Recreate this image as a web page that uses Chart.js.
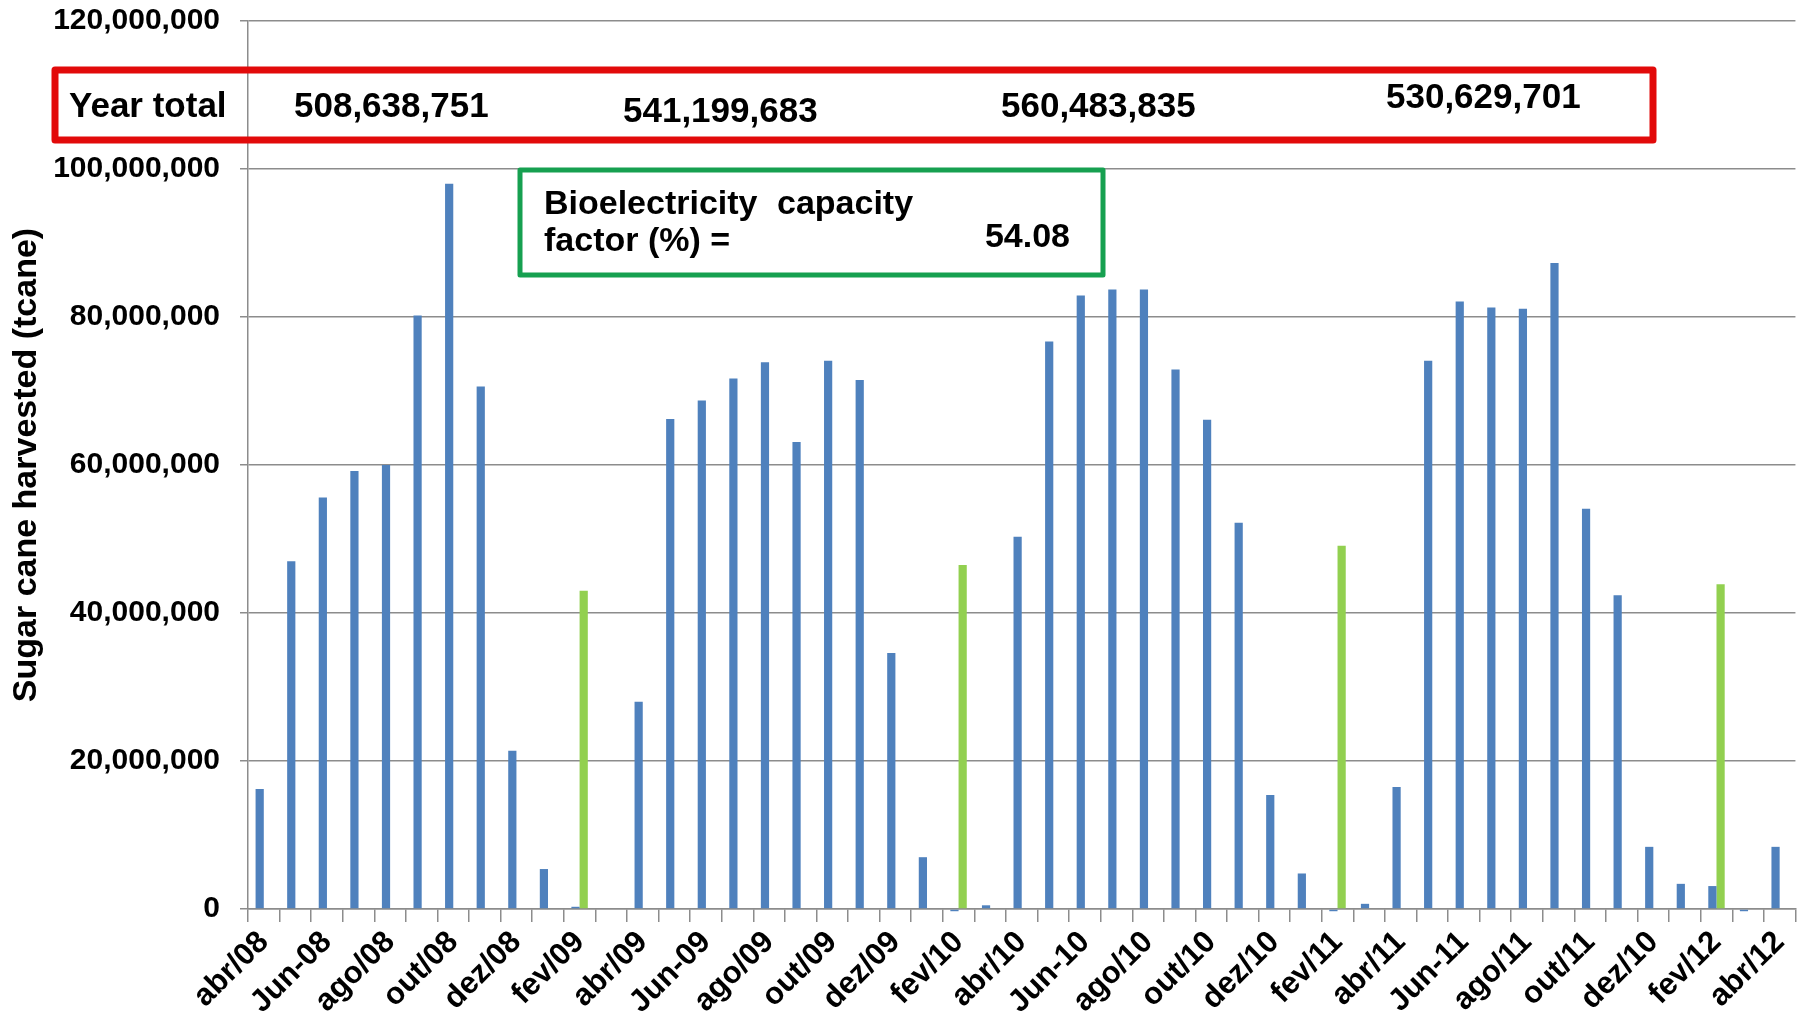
<!DOCTYPE html>
<html>
<head>
<meta charset="utf-8">
<title>Sugar cane harvested</title>
<script src="https://cdn.jsdelivr.net/npm/chart.js@4"></script>
<style>
  html, body { margin: 0; padding: 0; background: #fff; }
  #wrap { width: 1808px; height: 1015px; position: relative; }
</style>
</head>
<body>
<div id="wrap"><canvas id="caneChart"></canvas></div>
<script>
'use strict';

// months on the x axis (only every second one is labelled, as in the original)
const months = [
  'abr/08', 'mai/08', 'Jun-08', 'jul/08', 'ago/08', 'set/08', 'out/08', 'nov/08', 'dez/08',
  'jan/09', 'fev/09', 'mar/09', 'abr/09', 'mai/09', 'Jun-09', 'jul/09', 'ago/09', 'set/09',
  'out/09', 'nov/09', 'dez/09', 'jan/10', 'fev/10', 'mar/10', 'abr/10', 'mai/10', 'Jun-10',
  'jul/10', 'ago/10', 'set/10', 'out/10', 'nov/10', 'dez/10', 'jan/11', 'fev/11', 'mar/11',
  'abr/11', 'mai/11', 'Jun-11', 'jul/11', 'ago/11', 'set/11', 'out/11', 'nov/11', 'dez/10',
  'jan/12', 'fev/12', 'mar/12', 'abr/12'
];

// sugar cane harvested per month, millions of tonnes
const caneMillions = [
  16.2, 47.0, 55.6, 59.2, 60.0, 80.2, 98.0, 70.6, 21.4,
  5.4, 0.3, 0, 28.0, 66.2, 68.7, 71.7, 73.9, 63.1,
  74.1, 71.5, 34.6, 7.0, -0.3, 0.5, 50.3, 76.7, 82.9,
  83.7, 83.7, 72.9, 66.1, 52.2, 15.4, 4.8, -0.3, 0.7,
  16.5, 74.1, 82.1, 81.3, 81.1, 87.3, 54.1, 42.4, 8.4,
  3.4, 3.1, -0.3, 8.4
];

// green bars (only in february), millions
const febMillions = [
  null, null, null, null, null, null, null, null, null,
  null, 43.0, null, null, null, null, null, null, null,
  null, null, null, null, 46.5, null, null, null, null,
  null, null, null, null, null, null, null, 49.1, null,
  null, null, null, null, null, null, null, null, null,
  null, 43.9, null, null
];

const yTicks = [0, 20e6, 40e6, 60e6, 80e6, 100e6, 120e6];

const totalLabel = 'Year total';
const yearTotals = ['508,638,751', '541,199,683', '560,483,835', '530,629,701'];
const capacityLines = ['Bioelectricity capacity', 'factor (%) ='];
const capacityValue = '54.08';

const FONT = '"Liberation Sans", Arial, sans-serif';

// boxes with the year totals and the capacity factor
const boxesPlugin = {
  id: 'boxes',
  afterDraw(chart) {
    const ctx = chart.ctx;
    ctx.save();

    // red box
    ctx.lineJoin = 'round';
    ctx.lineWidth = 7;
    ctx.strokeStyle = '#e20a0a';
    ctx.strokeRect(55, 70, 1598, 70);

    ctx.fillStyle = '#000';
    ctx.textAlign = 'left';
    ctx.textBaseline = 'alphabetic';
    ctx.font = 'bold 35px ' + FONT;
    ctx.fillText(totalLabel, 69, 117);
    const tx = [294, 623, 1001, 1386];
    const ty = [117, 122, 117, 108];
    yearTotals.forEach((t, i) => ctx.fillText(t, tx[i], ty[i]));

    // green box
    ctx.fillStyle = '#fff';
    ctx.fillRect(520, 170, 583, 105);
    ctx.lineWidth = 5;
    ctx.strokeStyle = '#16a050';
    ctx.strokeRect(520, 170, 583, 105);

    ctx.fillStyle = '#000';
    ctx.font = 'bold 34px ' + FONT;
    ctx.wordSpacing = '10px';
    ctx.fillText(capacityLines[0], 544, 214);
    ctx.wordSpacing = '0px';
    ctx.fillText(capacityLines[1], 544, 251);
    ctx.textAlign = 'right';
    ctx.fillText(capacityValue, 1070, 247);

    ctx.restore();
  }
};

const canvas = document.getElementById('caneChart');

new Chart(canvas, {
  type: 'bar',
  data: {
    labels: months,
    datasets: [
      {
        label: 'Sugar cane harvested',
        data: caneMillions.map(v => v * 1e6),
        backgroundColor: '#4f81bd',
        categoryPercentage: 0.52,
        barPercentage: 1.0,
        clip: false,
      },
      {
        label: 'February',
        data: febMillions.map(v => (v === null ? null : v * 1e6)),
        backgroundColor: '#92d050',
        categoryPercentage: 0.52,
        barPercentage: 1.0,
        clip: false,
      },
    ],
  },
  options: {
    responsive: true,
    maintainAspectRatio: false,
    animation: false,
    layout: { padding: { top: 21, right: 4, left: 0, bottom: 0 } },
    plugins: {
      legend: { display: false },
      tooltip: { enabled: false },
    },
    scales: {
      x: {
        grid: {
          display: true,
          drawOnChartArea: false,
          drawTicks: true,
          tickLength: 13,
          color: '#8c8c8c',
          lineWidth: 1.5,
        },
        border: { display: true, color: '#8c8c8c', width: 1.5 },
        ticks: {
          autoSkip: false,
          maxRotation: 45,
          minRotation: 45,
          padding: 2,
          color: '#000',
          font: { family: FONT, size: 31, weight: 'bold' },
          callback: (v, i) => (i % 2 === 0 ? months[i] : ''),
        },
        afterFit(scale) {
          scale.height = 106;
        },
      },
      y: {
        min: 0,
        max: 120e6,
        afterBuildTicks(scale) {
          scale.ticks = yTicks.map(v => ({ value: v }));
        },
        grid: {
          color: '#8c8c8c',
          lineWidth: 1.5,
          tickLength: 8,
        },
        border: { display: true, color: '#8c8c8c', width: 1.5 },
        ticks: {
          padding: 20,
          color: '#000',
          font: { family: FONT, size: 30, weight: 'bold' },
          callback: v => Number(v).toLocaleString('en-US'),
        },
        title: {
          display: true,
          text: 'Sugar cane harvested (tcane)',
          color: '#000',
          font: { family: FONT, size: 34, weight: 'bold' },
          padding: { top: 6, bottom: 0 },
        },
        afterFit(scale) {
          scale.width = 248;
          scale.paddingTop = 0;
          scale.paddingBottom = 0;
        },
      },
    },
  },
  plugins: [boxesPlugin],
});
</script>
</body>
</html>
